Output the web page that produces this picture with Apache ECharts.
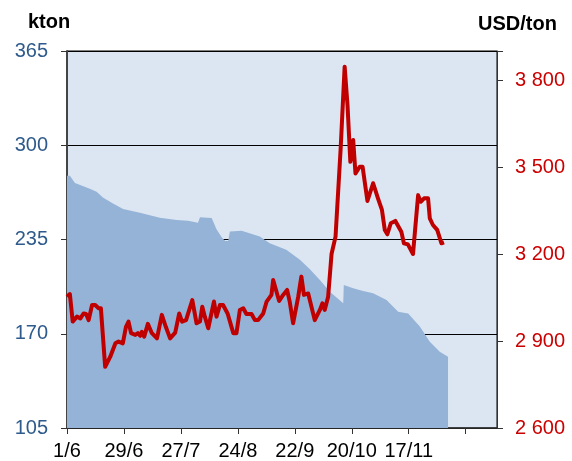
<!DOCTYPE html>
<html>
<head>
<meta charset="utf-8">
<script src="https://cdn.jsdelivr.net/npm/echarts@6/dist/echarts.min.js"></script>
<style>
  html, body { margin: 0; padding: 0; background: #fff; }
  #chart { width: 572px; height: 461px; }
</style>
</head>
<body>
<div id="chart"></div>
<script>
// x = business days counted from 1/6, one tick every 20 days
var dateLabels = ['1/6', '29/6', '27/7', '24/8', '22/9', '20/10', '17/11', ''];

// stocks, kton (left axis)
var stockDays = [0, 1, 2.8, 8, 10.4, 12.6, 16, 19.7, 25.6, 32.6, 38.5, 42.5, 46, 46.7, 50.8, 52.5, 54.5, 55.6, 56.6, 57.2,
  61.3, 67.7, 71.2, 77, 81.8, 85.3, 88.8, 92.3, 97, 97.2, 100.5, 104, 107.5, 112.2, 116.3, 119.8, 123.9, 127.4, 130.9, 133.8];
var stockKton = [279, 279, 274, 270, 268, 264, 260, 256, 253.5, 250, 248.5, 248, 246.5, 250.3, 249.8, 242, 236, 234, 234, 240.5,
  241, 237, 232.5, 228, 221, 214.4, 207, 199, 191, 203.6, 201.3, 199.5, 198, 193.3, 185.2, 184, 175, 164.5, 157.6, 154.2];

// price, USD/ton (right axis)
var priceDays = [0, 1, 2, 3.5, 4.7, 5.8, 6.7, 7.6, 8.8, 9.9, 11.1, 11.9, 13.4, 15.2, 17, 18.1, 19.6, 20.7, 21.6, 22.5,
  24, 24.9, 25.7, 26.3, 27.1, 28.4, 29.8, 31.6, 33.3, 34.7, 36.2, 38, 39.4, 40.4, 41.8, 44, 45.5, 46.7, 47.5, 48.4,
  49.6, 51.6, 52.5, 53.7, 54.8, 56.4, 58.4, 59.5, 60.7, 61.9, 63, 64.8, 66, 67.1, 68.9, 70.1, 71.8, 72.4, 74.5, 75.9,
  77.3, 78.2, 79.4, 81.2, 82.3, 83.2, 84.7, 87, 88.8, 89.7, 90.5, 91.7, 92.9, 94.3, 96.1, 97.5, 98.5, 99.5, 100.5, 101.3,
  102.8, 103.8, 105.5, 107.5, 109.2, 110.6, 111.6, 112.5, 113.7, 115.3, 117.4, 118.3, 119.7, 121.5, 123.3, 124.2, 125.4, 126.8, 127.4, 128.5,
  130, 131.5, 132.4];
var priceUsd = [3053, 3062, 2967, 2984, 2978, 2995, 2993, 2972, 3024, 3024, 3013, 3013, 2811, 2846, 2892, 2898, 2892, 2949, 2967, 2927,
  2921, 2927, 2918, 2932, 2915, 2959, 2927, 2909, 2990, 2949, 2909, 2929, 2995, 2967, 2972, 3041, 2961, 2967, 3018, 2984,
  2944, 3036, 2984, 3024, 3024, 2995, 2927, 2927, 3007, 3013, 2993, 2993, 2972, 2972, 2995, 3036, 3059, 3110, 3038, 3059,
  3076, 3036, 2961, 3053, 3122, 3059, 3064, 2972, 3007, 3030, 3007, 3053, 3200, 3260, 3564, 3846, 3714, 3518, 3593, 3478,
  3501, 3501, 3383, 3444, 3392, 3352, 3283, 3268, 3306, 3314, 3277, 3237, 3233, 3200, 3403, 3380, 3392, 3392, 3323, 3300,
  3283, 3237, 3240];

function pairs(xs, ys) {
  var out = [];
  for (var i = 0; i < xs.length; i++) out.push([xs[i], ys[i]]);
  return out;
}
function spaced(v) {
  return String(v).replace(/\B(?=(\d{3})+(?!\d))/g, ' ');
}

var chart = echarts.init(document.getElementById('chart'));
chart.setOption({
  animation: false,
  textStyle: { fontFamily: 'Liberation Sans, Arial, sans-serif' },
  grid: {
    left: 67, right: 75, top: 51, bottom: 33,
    show: true, backgroundColor: '#dce6f2', borderColor: '#000', borderWidth: 1
  },
  graphic: [
    { type: 'text', left: 28, top: 12, style: { text: 'kton', fontSize: 20, fontWeight: 'bold', fill: '#000', fontFamily: 'Liberation Sans, Arial' } },
    { type: 'text', left: 478, top: 14, style: { text: 'USD/ton', fontSize: 20, fontWeight: 'bold', fill: '#000', fontFamily: 'Liberation Sans, Arial' } }
  ],
  xAxis: {
    type: 'value', min: 0, max: 151, interval: 20,
    axisLine: { lineStyle: { color: '#333', width: 1.5 } },
    axisTick: { length: 6, lineStyle: { color: '#333' } },
    splitLine: { show: false },
    axisLabel: {
      margin: 13, fontSize: 20, color: '#000', showMaxLabel: false,
      formatter: function (v) { return v % 20 === 0 ? (dateLabels[v / 20] || '') : ''; }
    }
  },
  yAxis: [
    {
      type: 'value', min: 105, max: 365, interval: 65,
      axisLine: { show: true, lineStyle: { color: '#444', width: 2 } },
      axisTick: { show: true, length: 6, lineStyle: { color: '#333' } },
      splitLine: { show: true, lineStyle: { color: '#000', width: 1 } },
      axisLabel: { margin: 19, fontSize: 20, color: '#2e5a8c' }
    },
    {
      type: 'value', min: 2600, max: 3900, interval: 300,
      axisLine: { show: true, lineStyle: { color: '#333', width: 1 } },
      axisTick: { show: true, length: 6, lineStyle: { color: '#333' } },
      splitLine: { show: false },
      axisLabel: {
        margin: 18, fontSize: 20, color: '#cc0000',
        formatter: function (v) { return v === 3900 ? '' : spaced(v); }
      }
    }
  ],
  series: [
    {
      name: 'Stocks', type: 'line', yAxisIndex: 0,
      data: pairs(stockDays, stockKton),
      showSymbol: false,
      lineStyle: { width: 0 },
      areaStyle: { color: '#95b3d7', opacity: 1, origin: 'start' },
      z: 2
    },
    {
      name: 'Price', type: 'line', yAxisIndex: 1,
      data: pairs(priceDays, priceUsd),
      showSymbol: false,
      lineStyle: { color: '#c00000', width: 4, join: 'round' },
      z: 3
    }
  ]
});
</script>
</body>
</html>
